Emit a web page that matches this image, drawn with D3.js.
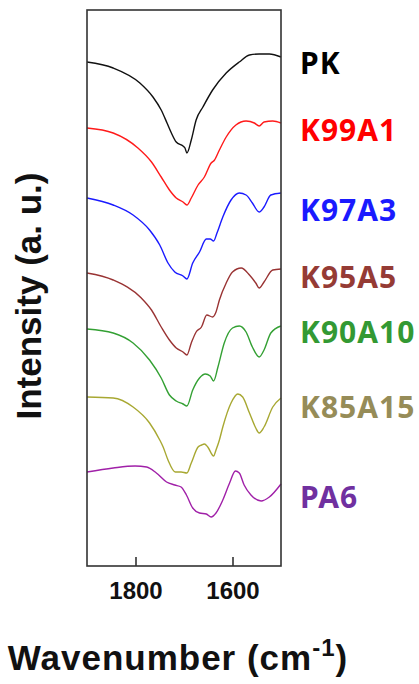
<!DOCTYPE html>
<html>
<head>
<meta charset="utf-8">
<script src="https://cdn.jsdelivr.net/npm/d3@7"></script>
<style>
  body { margin: 0; background: #fff; }
  .frame { fill: none; stroke: #333; stroke-width: 1.6; }
  .spec { fill: none; stroke-width: 1.4; }
</style>
</head>
<body>
<svg width="419" height="684"></svg>
<script>
// sample names, top to bottom
var names = ["PK", "K99A1", "K97A3", "K95A5", "K90A10", "K85A15", "PA6"];
var lineColors = ["#111111", "#ff1a1a", "#1a1aff", "#993333", "#33a033", "#a8a832", "#a020a8"];
var labelColors = ["#000000", "#ff0000", "#1a1aff", "#953b35", "#339933", "#968c58", "#7030a0"];
var labelY = [74, 141, 221, 288, 343, 418, 508];

var xTicks = [1800, 1600];

// [wavenumber (cm-1), intensity (a.u., offset)]
var PK = [[1900,504],[1846,498],[1791,483],[1764,469],[1747,456],[1735,443],[1726,433],[1716,424],[1702,420],[1698,418],[1694,413],[1685,426],[1675,446],[1661,459],[1641,476],[1613,493],[1586,504],[1565,511],[1545,512],[1524,512],[1500,509]];
var K99A1 = [[1900,438],[1846,433],[1795,418],[1767,404],[1747,389],[1730,376],[1716,368],[1702,364],[1694,361],[1685,368],[1671,381],[1658,389],[1644,403],[1637,406],[1627,416],[1613,429],[1593,441],[1572,445],[1555,443],[1545,440],[1535,444],[1517,445],[1500,443]];
var K97A3 = [[1900,368],[1846,361],[1805,351],[1771,336],[1750,321],[1733,303],[1719,294],[1702,290],[1694,287],[1682,303],[1668,314],[1654,327],[1646,327],[1639,325],[1632,333],[1620,349],[1603,366],[1586,373],[1572,371],[1559,363],[1545,354],[1535,359],[1521,371],[1500,373]];
var K95A5 = [[1900,293],[1846,286],[1788,268],[1767,256],[1747,239],[1730,226],[1716,218],[1702,214],[1694,211],[1685,223],[1675,234],[1664,239],[1653,251],[1641,249],[1634,254],[1627,266],[1613,283],[1600,294],[1582,298],[1565,291],[1552,283],[1545,278],[1535,284],[1517,296],[1500,297]];
var K90A10 = [[1900,237],[1846,233],[1805,223],[1771,206],[1747,188],[1730,171],[1716,165],[1702,162],[1694,160],[1682,176],[1668,188],[1656,192],[1646,190],[1639,185],[1630,199],[1617,223],[1600,238],[1586,240],[1572,234],[1559,219],[1545,209],[1535,216],[1521,233],[1500,240]];
var K85A15 = [[1900,169],[1846,168],[1805,159],[1771,143],[1750,126],[1743,119],[1733,106],[1718,94],[1706,94],[1694,93],[1685,103],[1671,119],[1664,121],[1658,122],[1651,119],[1639,110],[1634,116],[1627,126],[1620,139],[1603,163],[1589,172],[1579,169],[1565,153],[1552,138],[1545,133],[1535,139],[1517,159],[1500,168]];
var PA6 = [[1900,94],[1846,98],[1801,100],[1777,99],[1757,93],[1736,84],[1719,81],[1706,79],[1695,71],[1682,58],[1668,53],[1654,52],[1644,49],[1634,53],[1620,66],[1606,83],[1594,95],[1586,93],[1576,81],[1562,71],[1541,65],[1524,69],[1500,82]];

var series = [PK, K99A1, K97A3, K95A5, K90A10, K85A15, PA6];

var svg = d3.select("svg"),
    margin = {top: 10, right: 138, bottom: 118, left: 87},
    width = svg.attr("width") - margin.left - margin.right,
    height = svg.attr("height") - margin.top - margin.bottom;

var x = d3.scaleLinear().domain([1900, 1500]).range([0, width]),
    y = d3.scaleLinear().domain([0, 556]).range([height, 0]);

var line = d3.line()
    .curve(d3.curveMonotoneX)
    .x(function(d) { return x(d[0]); })
    .y(function(d) { return y(d[1]); });

var g = svg.append("g")
    .attr("transform", "translate(" + margin.left + "," + margin.top + ")");

g.selectAll(".spec")
    .data(series)
  .enter().append("path")
    .attr("class", "spec")
    .attr("d", line)
    .attr("stroke", function(d, i) { return lineColors[i]; });

g.append("rect")
    .attr("class", "frame")
    .attr("width", width)
    .attr("height", height);

// ticks point inward
var xAxis = d3.axisBottom(x).tickValues(xTicks).tickSize(-9).tickPadding(16).tickFormat(d3.format("d"));
var ax = g.append("g")
    .attr("transform", "translate(0," + height + ")")
    .call(xAxis);
ax.select(".domain").remove();
ax.selectAll("line").attr("stroke", "#333").attr("stroke-width", 1.6);
ax.selectAll("text")
    .attr("font-family", "Liberation Sans, Arial, sans-serif")
    .attr("font-weight", "bold")
    .attr("font-size", 24)
    .attr("fill", "#111");

// sample labels
svg.selectAll(".lab")
    .data(names)
  .enter().append("text")
    .attr("class", "lab")
    .attr("x", 300)
    .attr("y", function(d, i) { return labelY[i]; })
    .attr("font-family", "Noto Sans, sans-serif")
    .attr("font-weight", "bold")
    .attr("font-size", 30)
    .attr("letter-spacing", 1)
    .attr("fill", function(d, i) { return labelColors[i]; })
    .text(function(d) { return d; });

// axis titles
var xt = svg.append("text")
    .attr("x", 178)
    .attr("y", 670)
    .attr("text-anchor", "middle")
    .attr("font-family", "Liberation Sans, Arial, sans-serif")
    .attr("font-weight", "bold")
    .attr("font-size", 35)
    .attr("letter-spacing", 1)
    .attr("fill", "#111");
xt.append("tspan").text("Wavenumber (cm");
xt.append("tspan").attr("font-size", 24).attr("dy", -14).text("-1");
xt.append("tspan").attr("dy", 14).text(")");

svg.append("text")
    .attr("transform", "translate(41,296)rotate(-90)")
    .attr("text-anchor", "middle")
    .attr("font-family", "Liberation Sans, Arial, sans-serif")
    .attr("font-weight", "bold")
    .attr("font-size", 35)
    .attr("fill", "#111")
    .text("Intensity (a. u.)");
</script>
</body>
</html>
